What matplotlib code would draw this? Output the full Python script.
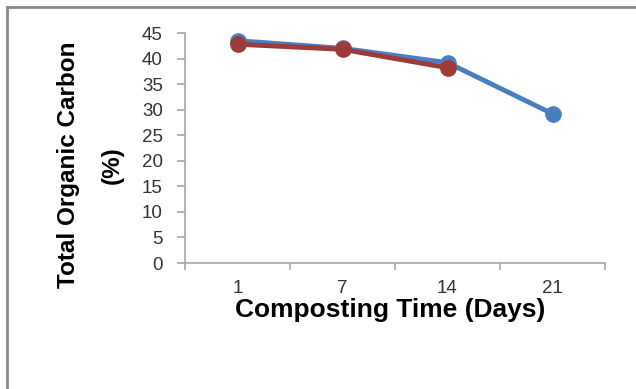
import numpy as np
import matplotlib
matplotlib.use('Agg')
from matplotlib import pyplot as plt
from matplotlib.lines import Line2D

days = ['1', '7', '14', '21']
toc_a = [43.5, 42.0, 39.2, 29.2]   # blue series
toc_b = [42.8, 41.8, 38.2]         # red series

plt.rcParams['font.family'] = ['Liberation Sans', 'DejaVu Sans']

fig = plt.figure(figsize=(6.36, 3.89), dpi=100)
ax = fig.add_axes([185/636, 1 - 263/389, 420/636, 230/389])

x = np.arange(len(days))
ax.plot(x, toc_a, color='#4a7ec0', lw=3.5, marker='o', ms=11, zorder=3)
ax.plot(x[:len(toc_b)], toc_b, color='#9e3a38', lw=3.5, marker='o', ms=11, zorder=4)

ax.set_xlim(-0.5, len(days) - 0.5)
ax.set_ylim(0, 45)
ax.set_yticks(range(0, 46, 5))
ax.set_xticks(x)
ax.set_xticklabels(days)
ax.set_xticks(np.arange(-0.5, len(days), 1), minor=True)

for s in ['top', 'right']:
    ax.spines[s].set_visible(False)
for s in ['left', 'bottom']:
    ax.spines[s].set_color('#a6a6a6')
    ax.spines[s].set_linewidth(1.2)

ax.tick_params(axis='y', length=6, width=1.2, color='#a6a6a6', pad=10,
               labelsize=13.5, labelcolor='#333333')
ax.tick_params(axis='x', which='major', length=0, pad=12,
               labelsize=13.5, labelcolor='#333333')
ax.tick_params(axis='x', which='minor', length=5, width=1.2, color='#a6a6a6')

fig.text(69/636, 1 - 165/389, 'Total Organic Carbon', rotation=90,
         ha='center', va='center', fontsize=17.5, fontweight='bold')
fig.text(112/636, 1 - 165/389, '(%)', rotation=90,
         ha='center', va='center', fontsize=17.5, fontweight='bold')
fig.text(390/636, 1 - 310/389, 'Composting Time (Days)',
         ha='center', va='center', fontsize=19, fontweight='bold')

# outer gray frame (top and left only visible)
fig.add_artist(Line2D([7/636, 1], [1 - 7/389, 1 - 7/389], color='#8a8a8a', lw=2,
                      transform=fig.transFigure))
fig.add_artist(Line2D([7/636, 7/636], [0, 1 - 7/389], color='#8a8a8a', lw=2,
                      transform=fig.transFigure))

plt.savefig('out.png', dpi=100)
